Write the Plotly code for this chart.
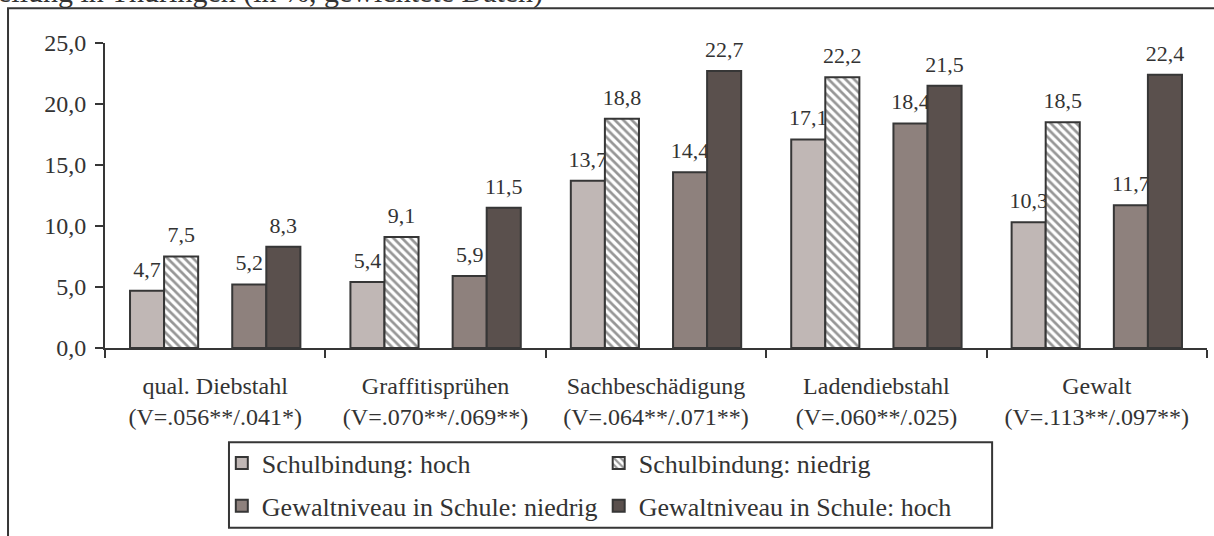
import plotly.graph_objects as go

# Delikte (x-Kategorien) mit Cramers V
categories = [
    "qual. Diebstahl<br>(V=.056**/.041*)",
    "Graffitisprühen<br>(V=.070**/.069**)",
    "Sachbeschädigung<br>(V=.064**/.071**)",
    "Ladendiebstahl<br>(V=.060**/.025)",
    "Gewalt<br>(V=.113**/.097**)",
]

schulbindung_hoch = [4.7, 5.4, 13.7, 17.1, 10.3]
schulbindung_niedrig = [7.5, 9.1, 18.8, 22.2, 18.5]
gewalt_niedrig = [5.2, 5.9, 14.4, 18.4, 11.7]
gewalt_hoch = [8.3, 11.5, 22.7, 21.5, 22.4]

y_ticks = [0, 5, 10, 15, 20, 25]

FONT = "Liberation Serif"
TXT = "#333333"
EDGE = "#363636"


def label(vals):
    # wert gross, darunter leere kleine zeile als abstand zum balken
    return ["<span style='font-size:22px'>%s</span><br>&nbsp;" % f"{v:.1f}".replace(".", ",") for v in vals]


fig = go.Figure()

# (name, werte, marker, legende, zeile)
series = [
    ("Schulbindung: hoch", schulbindung_hoch, dict(color="#C0B7B5"), "legend", 1),
    ("Schulbindung: niedrig", schulbindung_niedrig,
     dict(color="white", pattern=dict(shape="\\", fgcolor="#2e2e2e", bgcolor="white", size=6, solidity=0.45)),
     "legend2", 1),
    (None, None, None, None, None),  # leerer platz zwischen den paaren
    ("Gewaltniveau in Schule: niedrig", gewalt_niedrig, dict(color="#8E817D"), "legend", 2),
    ("Gewaltniveau in Schule: hoch", gewalt_hoch, dict(color="#5A504D"), "legend2", 2),
]

for name, vals, marker, leg, row in series:
    if name is None:
        fig.add_trace(go.Bar(x=categories, y=[0] * len(categories), showlegend=False,
                             marker=dict(color="rgba(0,0,0,0)", line=dict(width=0)),
                             hoverinfo="skip"))
        continue
    marker = dict(marker, line=dict(color=EDGE, width=2))
    fig.add_trace(go.Bar(
        x=categories, y=vals, name=name, marker=marker,
        legend=leg, legendgroup=name, legendrank=row,
        text=label(vals), textposition="outside", constraintext="none",
        cliponaxis=False,
        textfont=dict(family=FONT, size=7, color=TXT),
    ))

leg_common = dict(
    orientation="v", xanchor="left", y=-0.30, yanchor="top",
    borderwidth=0, bgcolor="rgba(0,0,0,0)",
    font=dict(family=FONT, size=26, color=TXT),
    itemwidth=30, traceorder="grouped", tracegroupgap=6,
)

fig.update_layout(
    width=1214, height=536,
    margin=dict(l=105, r=7, t=43, b=186),
    paper_bgcolor="white", plot_bgcolor="white",
    barmode="group", bargap=0.227, bargroupgap=0,
    separators=",.",
    font=dict(family=FONT, size=24, color=TXT),
    showlegend=True,
    legend=dict(leg_common, x=0.106),
    legend2=dict(leg_common, x=0.448),
    xaxis=dict(
        showline=True, linecolor=EDGE, linewidth=2,
        ticks="outside", ticklen=8, tickwidth=2, tickcolor=EDGE,
        tickson="boundaries", showgrid=False,
        tickfont=dict(family=FONT, size=24, color=TXT),
        ticklabelstandoff=15,
    ),
    yaxis=dict(
        range=[0, 25], tickvals=y_ticks, tickformat=".1f",
        showline=True, linecolor=EDGE, linewidth=2,
        ticks="outside", ticklen=8, tickwidth=2, tickcolor=EDGE,
        showgrid=False, zeroline=False,
        tickfont=dict(family=FONT, size=24, color=TXT),
        ticklabelstandoff=4,
    ),
    shapes=[
        # aeusserer rahmen
        dict(type="rect", xref="paper", yref="paper",
             x0=-0.088, x1=1.02, y0=-0.7, y1=1.114,
             line=dict(color=EDGE, width=2), layer="below"),
        # rahmen der legende
        dict(type="rect", xref="paper", yref="paper",
             x0=0.1125, x1=0.805, y0=-0.5896, y1=-0.3094,
             line=dict(color=EDGE, width=2), layer="above"),
    ],
    annotations=[dict(
        text="Verteilung in Thüringen (in %, gewichtete Daten)",
        xref="paper", yref="paper", x=0.399, y=1.104,
        xanchor="right", yanchor="bottom", showarrow=False,
        font=dict(family=FONT, size=30, color=TXT),
    )],
)

fig.write_html("out.html", config={"displayModeBar": False},
               post_script="document.body.style.margin='0';")
